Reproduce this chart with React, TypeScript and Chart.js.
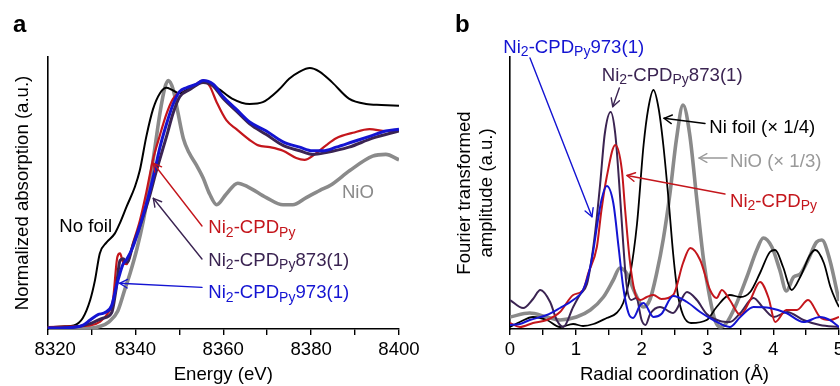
import React, { useEffect, useRef } from "react";
import { Chart, registerables } from "chart.js";

Chart.register(...registerables);

const FONT = '"Liberation Sans", Arial, Helvetica, sans-serif';
const FS = 18.6;
const SUB_FS = 14;

const BLACK = "#000000";
const RED = "#c4161c";
const PURPLE = "#3b2452";
const BLUE = "#1414d2";
const GRAY = "#8a8a8a";
const GRAY_TEXT = "#999999";

// ---------------- Panel a: XANES (energy in eV, normalized absorption) ----------------
const foilE = [8320, 8324, 8326, 8328, 8329.7, 8330.8, 8331.9, 8333.4, 8335.3, 8336.5, 8338, 8339.9, 8341, 8342.5, 8344, 8345.6, 8347.1, 8348.2, 8350, 8352.5, 8355.3, 8357.5, 8359.2, 8362, 8366, 8369, 8372.7, 8375, 8377.4, 8379.7, 8381.9, 8384.8, 8388.6, 8392.5, 8396, 8400];
const foilMu = [0.01, 0.015, 0.02, 0.06, 0.16, 0.27, 0.42, 0.48, 0.53, 0.59, 0.68, 0.79, 0.88, 1.07, 1.22, 1.31, 1.34, 1.33, 1.31, 1.34, 1.37, 1.36, 1.33, 1.28, 1.25, 1.26, 1.33, 1.39, 1.43, 1.45, 1.43, 1.37, 1.28, 1.25, 1.245, 1.24];

const nioE = [8320, 8326, 8330, 8332, 8334, 8336, 8337.6, 8338.8, 8340.3, 8341.8, 8342.9, 8344.4, 8345.6, 8346.7, 8347.5, 8348.6, 8349.7, 8350.9, 8352.2, 8353.9, 8355.4, 8356.9, 8358.5, 8360.7, 8363.3, 8365.6, 8369.8, 8373.6, 8375.8, 8378.9, 8382, 8384.5, 8388.8, 8394, 8397, 8400];
const nioMu = [0.005, 0.005, 0.005, 0.015, 0.04, 0.1, 0.22, 0.31, 0.44, 0.6, 0.75, 1.0, 1.2, 1.34, 1.38, 1.33, 1.2, 1.06, 0.98, 0.91, 0.84, 0.75, 0.69, 0.75, 0.81, 0.79, 0.73, 0.69, 0.69, 0.73, 0.77, 0.8, 0.88, 0.96, 0.97, 0.94];

const cpdE = [8320, 8326, 8329.7, 8331.9, 8333.8, 8334.9, 8335.9, 8336.5, 8337.2, 8338, 8339.5, 8341, 8342.5, 8344, 8345.5, 8347, 8348.6, 8350.8, 8353.1, 8355.4, 8356.9, 8358.5, 8360.7, 8363, 8366, 8368, 8370.6, 8373.6, 8376.6, 8378.5, 8380.8, 8383.4, 8385.7, 8389.5, 8393.3, 8397, 8400];
const cpdMu = [0.01, 0.015, 0.02, 0.04, 0.09, 0.16, 0.4, 0.42, 0.37, 0.36, 0.48, 0.6, 0.76, 0.94, 1.07, 1.19, 1.28, 1.33, 1.35, 1.38, 1.35, 1.26, 1.16, 1.11, 1.05, 1.02, 1.01, 0.99, 0.95, 0.94, 0.97, 1.02, 1.06, 1.09, 1.11, 1.1, 1.1];

const cpd873E = [8320, 8326, 8329.7, 8332.6, 8334.6, 8335.6, 8336.5, 8337.2, 8338.1, 8339.5, 8341, 8342.9, 8344.8, 8347.1, 8348.6, 8350.1, 8352.4, 8355.4, 8357.7, 8360, 8363, 8366, 8369.8, 8373.6, 8377.4, 8380.3, 8383.4, 8388.6, 8394, 8400];
const cpd873Mu = [0.005, 0.01, 0.03, 0.06, 0.09, 0.22, 0.38, 0.39, 0.37, 0.47, 0.57, 0.71, 0.88, 1.07, 1.2, 1.29, 1.33, 1.37, 1.35, 1.28, 1.21, 1.14, 1.08, 1.02, 0.99, 0.97, 0.98, 1.01, 1.06, 1.1];

const cpd973E = [8320, 8326, 8328, 8329.7, 8331.5, 8333, 8334.6, 8335.7, 8336.5, 8337.2, 8338.1, 8339.5, 8341, 8342.9, 8344.4, 8345.6, 8347.1, 8348.6, 8350.1, 8351.6, 8353.9, 8355.4, 8357.7, 8360, 8363, 8366, 8369.8, 8373.6, 8377.4, 8380.3, 8382.7, 8385.7, 8389.5, 8393.3, 8397, 8400];
const cpd973Mu = [0.005, 0.01, 0.02, 0.05, 0.08, 0.09, 0.13, 0.24, 0.31, 0.36, 0.39, 0.46, 0.57, 0.73, 0.88, 1.01, 1.14, 1.25, 1.32, 1.34, 1.36, 1.38, 1.36, 1.29, 1.22, 1.15, 1.1, 1.04, 1.01, 0.99, 0.99, 1.01, 1.04, 1.07, 1.1, 1.11];

// ---------------- Panel b: FT-EXAFS (radial coordinate in Å, amplitude) ----------------
const foilR = [0, 0.15, 0.35, 0.56, 0.76, 0.96, 1.11, 1.27, 1.47, 1.62, 1.72, 1.82, 1.93, 2.03, 2.1, 2.18, 2.26, 2.33, 2.41, 2.48, 2.55, 2.63, 2.75, 2.99, 3.14, 3.34, 3.5, 3.65, 3.8, 3.95, 4.03, 4.15, 4.28, 4.41, 4.56, 4.64, 4.77, 4.87, 4.97, 5.0];
const foilA = [0.02, 0.07, 0.12, 0.09, 0.02, 0.05, 0.03, 0.05, 0.11, 0.16, 0.26, 0.52, 1.05, 1.84, 2.2, 2.39, 2.2, 1.84, 1.29, 0.75, 0.35, 0.14, 0.06, 0.09, 0.22, 0.34, 0.32, 0.37, 0.56, 0.77, 0.79, 0.62, 0.39, 0.52, 0.74, 0.79, 0.66, 0.42, 0.26, 0.22];

const nioR = [0, 0.3, 0.56, 0.76, 1.01, 1.22, 1.42, 1.57, 1.67, 1.77, 1.9, 2.03, 2.13, 2.23, 2.33, 2.43, 2.53, 2.63, 2.73, 2.84, 2.94, 3.04, 3.12, 3.2, 3.29, 3.42, 3.6, 3.75, 3.85, 3.98, 4.1, 4.2, 4.31, 4.41, 4.53, 4.66, 4.74, 4.86, 5.0];
const nioA = [0.12, 0.16, 0.12, 0.09, 0.12, 0.19, 0.32, 0.49, 0.61, 0.56, 0.36, 0.22, 0.3, 0.56, 0.9, 1.35, 1.9, 2.24, 1.95, 1.29, 0.7, 0.3, 0.08, 0.02, 0.06, 0.22, 0.52, 0.79, 0.91, 0.82, 0.59, 0.38, 0.52, 0.55, 0.69, 0.87, 0.89, 0.69, 0.28];

const cpdR = [0, 0.15, 0.35, 0.56, 0.76, 0.96, 1.11, 1.19, 1.32, 1.39, 1.47, 1.6, 1.7, 1.75, 1.82, 1.9, 1.98, 2.08, 2.18, 2.3, 2.48, 2.63, 2.74, 2.89, 3.04, 3.14, 3.22, 3.34, 3.5, 3.65, 3.8, 3.93, 4.03, 4.2, 4.36, 4.53, 4.71, 4.86, 5.0];
const cpdA = [0.06, 0.02, 0.06, 0.09, 0.17, 0.34, 0.39, 0.56, 0.82, 1.19, 1.52, 1.84, 1.59, 1.19, 0.69, 0.36, 0.29, 0.32, 0.34, 0.3, 0.34, 0.66, 0.81, 0.69, 0.39, 0.31, 0.39, 0.29, 0.14, 0.29, 0.47, 0.31, 0.07, 0.19, 0.19, 0.29, 0.12, 0.09, 0.12];

const cpd873R = [0, 0.2, 0.35, 0.46, 0.61, 0.71, 0.81, 0.96, 1.06, 1.17, 1.24, 1.3, 1.37, 1.44, 1.53, 1.6, 1.66, 1.72, 1.77, 1.84, 1.92, 2.0, 2.06, 2.13, 2.28, 2.48, 2.69, 2.84, 2.99, 3.19, 3.34, 3.5, 3.7, 3.85, 4.01, 4.21, 4.46, 4.71, 5.0];
const cpd873A = [0.29, 0.21, 0.3, 0.39, 0.27, 0.09, 0.02, 0.22, 0.34, 0.45, 0.7, 1.0, 1.45, 1.95, 2.17, 1.95, 1.45, 0.86, 0.45, 0.29, 0.31, 0.09, 0.04, 0.15, 0.22, 0.16, 0.37, 0.29, 0.15, 0.08, 0.07, 0.16, 0.31, 0.21, 0.12, 0.17, 0.09, 0.04, 0.02];

const cpd973R = [0, 0.15, 0.3, 0.56, 0.76, 0.96, 1.11, 1.22, 1.27, 1.32, 1.39, 1.47, 1.57, 1.65, 1.72, 1.8, 1.87, 1.98, 2.03, 2.18, 2.3, 2.48, 2.69, 2.89, 3.09, 3.34, 3.5, 3.7, 3.95, 4.2, 4.46, 4.71, 4.86, 5.0];
const cpd973A = [0.04, 0.05, 0.09, 0.14, 0.21, 0.29, 0.39, 0.62, 0.8, 1.02, 1.29, 1.43, 1.26, 0.82, 0.42, 0.16, 0.11, 0.24, 0.26, 0.12, 0.15, 0.33, 0.27, 0.17, 0.09, 0.02, 0.12, 0.22, 0.21, 0.16, 0.07, 0.12, 0.09, 0.02];

// ---------------- Axis ticks ----------------
const energyTickLabels = ["8320", "8340", "8360", "8380", "8400"];
const radialTickLabels = ["0", "1", "2", "3", "4", "5"];

// ---------------- Annotations (text {..} = subscript), in data coordinates ----------------
type Label = { text: string; x: number; y: number; color: string };
type Arrow = { x1: number; y1: number; x2: number; y2: number; color: string };

const xanesLabels: Label[] = [
  { text: "No foil", x: 8322.69, y: 0.539, color: BLACK },
  { text: "NiO", x: 8387.0, y: 0.728, color: GRAY },
  { text: "Ni{2}-CPD{Py}", x: 8356.6, y: 0.533, color: RED },
  { text: "Ni{2}-CPD{Py}873(1)", x: 8356.6, y: 0.35, color: PURPLE },
  { text: "Ni{2}-CPD{Py}973(1)", x: 8356.6, y: 0.171, color: BLUE },
];
const xanesArrows: Arrow[] = [
  { x1: 8355.16, y1: 0.572, x2: 8344.08, y2: 0.921, color: RED },
  { x1: 8355.16, y1: 0.389, x2: 8344.08, y2: 0.726, color: PURPLE },
  { x1: 8355.16, y1: 0.231, x2: 8336.39, y2: 0.254, color: BLUE },
];

const exafsLabels: Label[] = [
  { text: "Ni{2}-CPD{Py}973(1)", x: -0.102, y: 2.763, color: BLUE },
  { text: "Ni{2}-CPD{Py}873(1)", x: 1.394, y: 2.483, color: PURPLE },
  { text: "Ni foil (× 1/4)", x: 3.029, y: 1.957, color: BLACK },
  { text: "NiO (× 1/3)", x: 3.343, y: 1.623, color: GRAY_TEXT },
  { text: "Ni{2}-CPD{Py}", x: 3.343, y: 1.223, color: RED },
];
const exafsArrows: Arrow[] = [
  { x1: 0.304, y1: 2.71, x2: 1.246, y2: 1.123, color: BLUE },
  { x1: 1.661, y1: 2.41, x2: 1.561, y2: 2.223, color: PURPLE },
  { x1: 2.964, y1: 2.055, x2: 2.34, y2: 2.107, color: BLACK },
  { x1: 3.298, y1: 1.71, x2: 2.872, y2: 1.71, color: GRAY_TEXT },
  { x1: 3.267, y1: 1.35, x2: 1.778, y2: 1.535, color: RED },
];

// ---------------- helpers ----------------
function pts(xs: number[], ys: number[]) {
  return xs.map((x, i) => ({ x, y: ys[i] }));
}

function drawRich(ctx: CanvasRenderingContext2D, text: string, x: number, y: number, color: string) {
  const re = /\{([^}]*)\}|([^{]+)/g;
  let m: RegExpExecArray | null;
  let cx = x;
  ctx.fillStyle = color;
  ctx.textAlign = "left";
  ctx.textBaseline = "alphabetic";
  while ((m = re.exec(text)) !== null) {
    if (m[1] !== undefined) {
      ctx.font = `${SUB_FS}px ${FONT}`;
      ctx.fillText(m[1], cx, y + 3.5);
      cx += ctx.measureText(m[1]).width;
    } else {
      ctx.font = `${FS}px ${FONT}`;
      ctx.fillText(m[2], cx, y);
      cx += ctx.measureText(m[2]).width;
    }
  }
}

function drawArrow(ctx: CanvasRenderingContext2D, x1: number, y1: number, x2: number, y2: number, color: string) {
  const ang = Math.atan2(y2 - y1, x2 - x1);
  const len = 9;
  const spread = 0.5;
  ctx.strokeStyle = color;
  ctx.lineWidth = 1.4;
  ctx.lineCap = "round";
  ctx.lineJoin = "round";
  ctx.beginPath();
  ctx.moveTo(x1, y1);
  ctx.lineTo(x2, y2);
  ctx.stroke();
  ctx.beginPath();
  ctx.moveTo(x2 - len * Math.cos(ang - spread), y2 - len * Math.sin(ang - spread));
  ctx.lineTo(x2, y2);
  ctx.lineTo(x2 - len * Math.cos(ang + spread), y2 - len * Math.sin(ang + spread));
  ctx.stroke();
}

function annotationPlugin(id: string, labels: Label[], arrows: Arrow[], letter: string, lx: number, ly: number) {
  return {
    id,
    afterDraw(chart: any) {
      const { ctx, scales } = chart;
      const xs = scales.x;
      const ys = scales.y;
      ctx.save();
      arrows.forEach((a) =>
        drawArrow(ctx, xs.getPixelForValue(a.x1), ys.getPixelForValue(a.y1), xs.getPixelForValue(a.x2), ys.getPixelForValue(a.y2), a.color)
      );
      labels.forEach((l) => drawRich(ctx, l.text, xs.getPixelForValue(l.x), ys.getPixelForValue(l.y), l.color));
      ctx.font = `bold 24px ${FONT}`;
      ctx.fillStyle = BLACK;
      ctx.textAlign = "left";
      ctx.textBaseline = "alphabetic";
      ctx.fillText(letter, lx, ly);
      ctx.restore();
    },
  };
}

function lineDs(label: string, xs: number[], ys: number[], color: string, width: number) {
  return {
    label,
    data: pts(xs, ys),
    borderColor: color,
    backgroundColor: color,
    borderWidth: width,
    pointRadius: 0,
    fill: false,
    cubicInterpolationMode: "monotone" as const,
  };
}

function baseScales(opts: {
  xmin: number; xmax: number; step: number; xTitle: string; tickCb: (v: number) => string;
  ymax: number; yTitle: string | string[]; yTitlePad: number; yLineHeight: number; yWidth: number;
}) {
  return {
    x: {
      type: "linear" as const,
      min: opts.xmin,
      max: opts.xmax,
      ticks: {
        stepSize: opts.step,
        autoSkip: false,
        maxRotation: 0,
        minRotation: 0,
        padding: 4,
        color: BLACK,
        font: { family: FONT, size: FS },
        callback: (v: any) => opts.tickCb(Number(v)),
      },
      grid: { display: true, drawOnChartArea: false, drawTicks: true, tickLength: 6, color: BLACK, lineWidth: 1.4 },
      border: { display: true, color: BLACK, width: 1.6 },
      title: { display: true, text: opts.xTitle, color: BLACK, font: { family: FONT, size: FS }, padding: { top: 0, bottom: 0 } },
      afterFit: (s: any) => {
        s.height = 57;
        s.paddingLeft = 0;
        s.paddingRight = 0;
      },
    },
    y: {
      type: "linear" as const,
      min: 0,
      max: opts.ymax,
      ticks: { display: false },
      grid: { display: false },
      border: { display: true, color: BLACK, width: 1.6 },
      title: {
        display: true,
        text: opts.yTitle,
        color: BLACK,
        font: { family: FONT, size: FS, lineHeight: opts.yLineHeight },
        padding: { top: opts.yTitlePad, bottom: 0 },
      },
      afterFit: (s: any) => {
        s.width = opts.yWidth;
        s.paddingTop = 0;
        s.paddingBottom = 0;
      },
    },
  };
}

function energyTick(v: number): string {
  const idx = energyTickLabels.indexOf(String(Math.round(v)));
  if (Math.abs(v - Math.round(v)) > 1e-6 || idx < 0) return "";
  return idx === 0 ? "   " + energyTickLabels[idx] : energyTickLabels[idx];
}

function radialTick(v: number): string {
  if (Math.abs(v - Math.round(v)) > 1e-6) return "";
  const s = String(Math.round(v));
  return radialTickLabels.includes(s) ? s : "";
}

export default function App() {
  const refA = useRef<HTMLCanvasElement | null>(null);
  const refB = useRef<HTMLCanvasElement | null>(null);

  useEffect(() => {
    if (!refA.current || !refB.current) return;
    const chartA = new Chart(refA.current, {
      type: "line",
      data: {
        datasets: [
          lineDs("Ni2-CPDPy973(1)", cpd973E, cpd973Mu, BLUE, 3),
          lineDs("Ni2-CPDPy873(1)", cpd873E, cpd873Mu, PURPLE, 3),
          lineDs("Ni2-CPDPy", cpdE, cpdMu, RED, 2.2),
          lineDs("Ni foil", foilE, foilMu, BLACK, 2),
          lineDs("NiO", nioE, nioMu, GRAY, 3.6),
        ] as any,
      },
      options: {
        animation: false,
        responsive: false,
        devicePixelRatio: 1,
        events: [],
        layout: { padding: { top: 57, right: 21, left: 0, bottom: 0 } },
        plugins: { legend: { display: false }, tooltip: { enabled: false } },
        scales: baseScales({
          xmin: 8320, xmax: 8400, step: 10, xTitle: "Energy (eV)", tickCb: energyTick,
          ymax: 1.511, yTitle: "Normalized absorption (a.u.)", yTitlePad: 11.7, yLineHeight: 1.2, yWidth: 47.5,
        }) as any,
      },
      plugins: [annotationPlugin("annA", xanesLabels, xanesArrows, "a", 13, 31.7)],
    });

    const chartB = new Chart(refB.current, {
      type: "line",
      data: {
        datasets: [
          lineDs("Ni2-CPDPy973(1)", cpd973R, cpd973A, BLUE, 2),
          lineDs("Ni2-CPDPy", cpdR, cpdA, RED, 2),
          lineDs("Ni2-CPDPy873(1)", cpd873R, cpd873A, PURPLE, 2),
          lineDs("Ni foil (x 1/4)", foilR, foilA, BLACK, 1.8),
          lineDs("NiO (x 1/3)", nioR, nioA, GRAY, 3.6),
        ] as any,
      },
      options: {
        animation: false,
        responsive: false,
        devicePixelRatio: 1,
        events: [],
        layout: { padding: { top: 57, right: 21, left: 0, bottom: 0 } },
        plugins: { legend: { display: false }, tooltip: { enabled: false } },
        scales: baseScales({
          xmin: 0, xmax: 5, step: 0.5, xTitle: "Radial coordination (Å)", tickCb: radialTick,
          ymax: 2.72, yTitle: ["Fourier transformed", "amplitude (a.u.)"], yTitlePad: 34.5, yLineHeight: 1.16, yWidth: 90,
        }) as any,
      },
      plugins: [annotationPlugin("annB", exafsLabels, exafsArrows, "b", 35, 31.7)],
    });

    return () => {
      chartA.destroy();
      chartB.destroy();
    };
  }, []);

  return (
    <div
      style={{
        position: "absolute",
        left: 0,
        top: 0,
        width: 840,
        height: 386,
        overflow: "hidden",
        background: "#ffffff",
      }}
    >
      <canvas ref={refA} width={420} height={386} style={{ position: "absolute", left: 0, top: 0 }} />
      <canvas ref={refB} width={440} height={386} style={{ position: "absolute", left: 420, top: 0 }} />
    </div>
  );
}
